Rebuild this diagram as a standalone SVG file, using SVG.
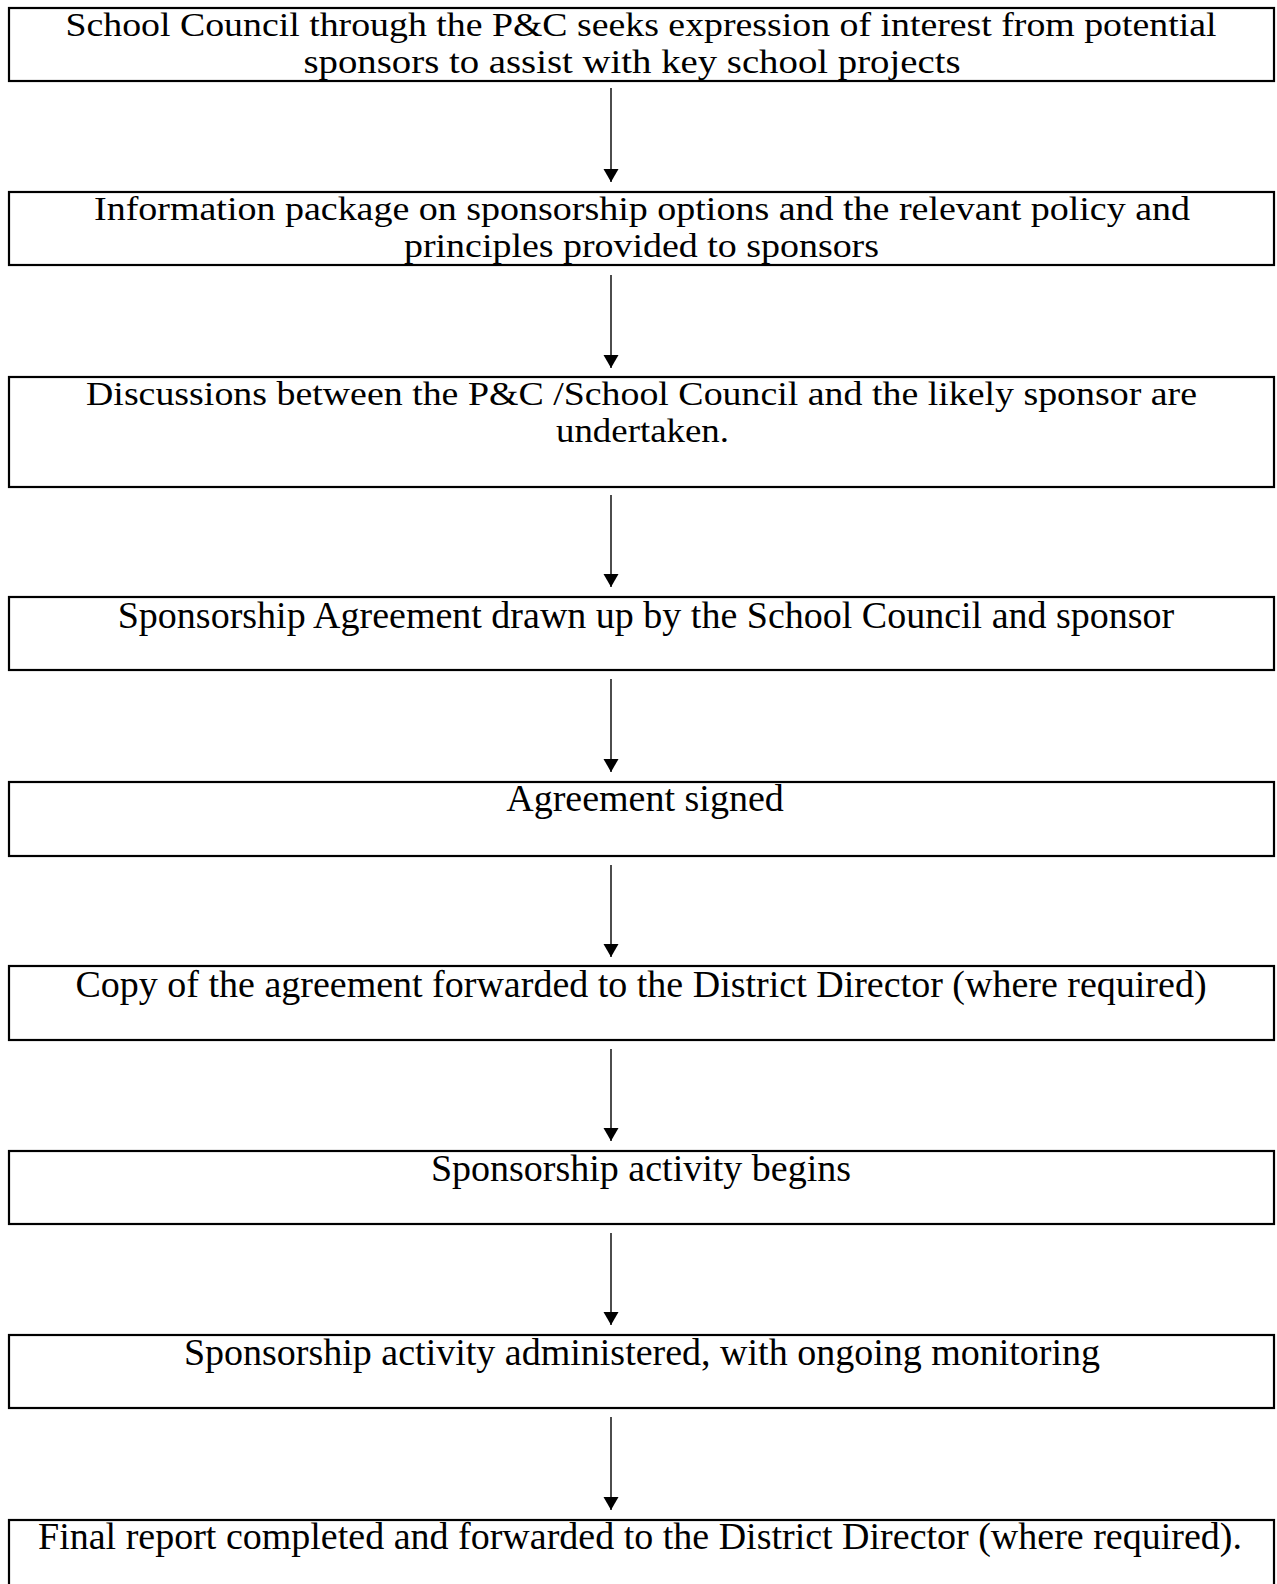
<svg xmlns="http://www.w3.org/2000/svg" width="1277" height="1584" viewBox="0 0 1277 1584">
<style>
.box{fill:#fff;stroke:#000;stroke-width:2.2}
.t{font-family:"Liberation Serif","Times New Roman",serif;font-size:38px;fill:#000;text-anchor:middle}
.s{font-size:33px}
.c{stroke:#000;stroke-width:1.4;fill:none}
</style>
<defs>
<marker id="ah" markerUnits="userSpaceOnUse" markerWidth="14" markerHeight="16" viewBox="0 0 14 16" refX="13" refY="8" orient="auto">
<path d="M0,0.5 L13,8 L0,15.5 Z" fill="#000"/>
</marker>
</defs>
<rect width="1277" height="1584" fill="#fff"/>
<g id="n1"><rect class="box" x="9" y="8" width="1265" height="73"/>
<text class="t s" x="641" y="36" textLength="1151" lengthAdjust="spacingAndGlyphs">School Council through the P&amp;C seeks expression of interest from potential</text>
<text class="t s" x="632" y="73" textLength="657" lengthAdjust="spacingAndGlyphs">sponsors to assist with key school projects</text></g>
<g id="n2"><rect class="box" x="9" y="192" width="1265" height="73"/>
<text class="t s" x="642" y="220" textLength="1096" lengthAdjust="spacingAndGlyphs">Information package on sponsorship options and the relevant policy and</text>
<text class="t s" x="641.5" y="257" textLength="475" lengthAdjust="spacingAndGlyphs">principles provided to sponsors</text></g>
<g id="n3"><rect class="box" x="9" y="377" width="1265" height="110"/>
<text class="t s" x="641.5" y="405" textLength="1111" lengthAdjust="spacingAndGlyphs">Discussions between the P&amp;C /School Council and the likely sponsor are</text>
<text class="t s" x="642.5" y="442" textLength="173" lengthAdjust="spacingAndGlyphs">undertaken.</text></g>
<g id="n4"><rect class="box" x="9" y="597" width="1265" height="73"/>
<text class="t" x="646" y="628">Sponsorship Agreement drawn up by the School Council and sponsor</text></g>
<g id="n5"><rect class="box" x="9" y="782" width="1265" height="74"/>
<text class="t" x="645" y="811">Agreement signed</text></g>
<g id="n6"><rect class="box" x="9" y="966" width="1265" height="74"/>
<text class="t" x="641" y="997">Copy of the agreement forwarded to the District Director (where required)</text></g>
<g id="n7"><rect class="box" x="9" y="1151" width="1265" height="73"/>
<text class="t" x="641" y="1181">Sponsorship activity begins</text></g>
<g id="n8"><rect class="box" x="9" y="1335" width="1265" height="73"/>
<text class="t" x="642" y="1365">Sponsorship activity administered, with ongoing monitoring</text></g>
<g id="n9"><rect class="box" x="9" y="1520" width="1265" height="74"/>
<text class="t" x="640" y="1549">Final report completed and forwarded to the District Director (where required).</text></g>
<g id="connectors">
<line class="c" x1="611" y1="88" x2="611" y2="182" marker-end="url(#ah)"/>
<line class="c" x1="611" y1="275" x2="611" y2="368" marker-end="url(#ah)"/>
<line class="c" x1="611" y1="495" x2="611" y2="587" marker-end="url(#ah)"/>
<line class="c" x1="611" y1="679" x2="611" y2="772" marker-end="url(#ah)"/>
<line class="c" x1="611" y1="865" x2="611" y2="957" marker-end="url(#ah)"/>
<line class="c" x1="611" y1="1049" x2="611" y2="1141" marker-end="url(#ah)"/>
<line class="c" x1="611" y1="1233" x2="611" y2="1325" marker-end="url(#ah)"/>
<line class="c" x1="611" y1="1417" x2="611" y2="1510" marker-end="url(#ah)"/>
</g>
</svg>
